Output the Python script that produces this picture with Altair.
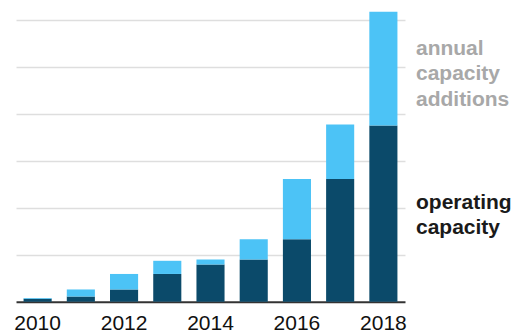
import altair as alt
import pandas as pd

years = [2010, 2011, 2012, 2013, 2014, 2015, 2016, 2017, 2018]
operating = [0.06, 0.11, 0.26, 0.59, 0.79, 0.90, 1.33, 2.61, 3.75]
additions = [0.02, 0.15, 0.33, 0.28, 0.11, 0.43, 1.28, 1.16, 2.42]
series_names = ["operating capacity", "annual capacity additions"]
series_colors = ["#0b4a6a", "#4cc3f6"]
label_colors = ["#1a1a1a", "#a8a8a8"]
label_y = [1.974, 5.255]
x_labels = ["2010", "2012", "2014", "2016", "2018"]
grid_values = [1, 2, 3, 4, 5, 6]

rows = []
for i, y in enumerate(years):
    rows.append({"year": str(y), "series": series_names[0], "value": operating[i], "order": 0})
    rows.append({"year": str(y), "series": series_names[1], "value": additions[i], "order": 1})
df = pd.DataFrame(rows)

labels_df = pd.DataFrame({
    "text": [["operating", "capacity"], ["annual", "capacity", "additions"]],
    "y": label_y,
    "color": label_colors,
})

FONT = "Liberation Sans"

bars = alt.Chart(df).mark_bar().encode(
    x=alt.X(
        "year:O",
        sort=[str(y) for y in years],
        scale=alt.Scale(paddingInner=0.35, paddingOuter=0.175),
        axis=alt.Axis(
            title=None,
            labelAngle=0,
            values=x_labels,
            ticks=False,
            labelPadding=11,
            labelFontSize=21,
            labelColor="#111",
            labelFont=FONT,
            domainColor="#333",
            domainWidth=2,
            grid=False,
        ),
    ),
    y=alt.Y(
        "value:Q",
        stack="zero",
        scale=alt.Scale(domain=[0, 6.206], nice=False, zero=True),
        axis=alt.Axis(
            title=None,
            labels=False,
            ticks=False,
            domain=False,
            values=grid_values,
            grid=True,
            gridColor="#dedede",
            gridWidth=1.5,
        ),
    ),
    color=alt.Color(
        "series:N",
        scale=alt.Scale(domain=series_names, range=series_colors),
        legend=None,
    ),
    order=alt.Order("order:Q", sort="ascending"),
)

texts = alt.Chart(labels_df).mark_text(
    align="left",
    baseline="alphabetic",
    fontSize=21,
    fontWeight="bold",
    font=FONT,
    lineHeight=25.5,
).encode(
    x=alt.value(400),
    y=alt.Y("y:Q", scale=alt.Scale(domain=[0, 6.206], nice=False)),
    text="text",
    color=alt.Color("color:N", scale=None),
)

chart = alt.layer(bars, texts).properties(
    width=389,
    height=291.7,
    autosize=alt.AutoSizeParams(type="none"),
    padding={"left": 8, "top": 2, "right": 108, "bottom": 34},
).configure_view(stroke=None)

chart.save("out.html", embed_options={"renderer": "svg", "actions": False})
